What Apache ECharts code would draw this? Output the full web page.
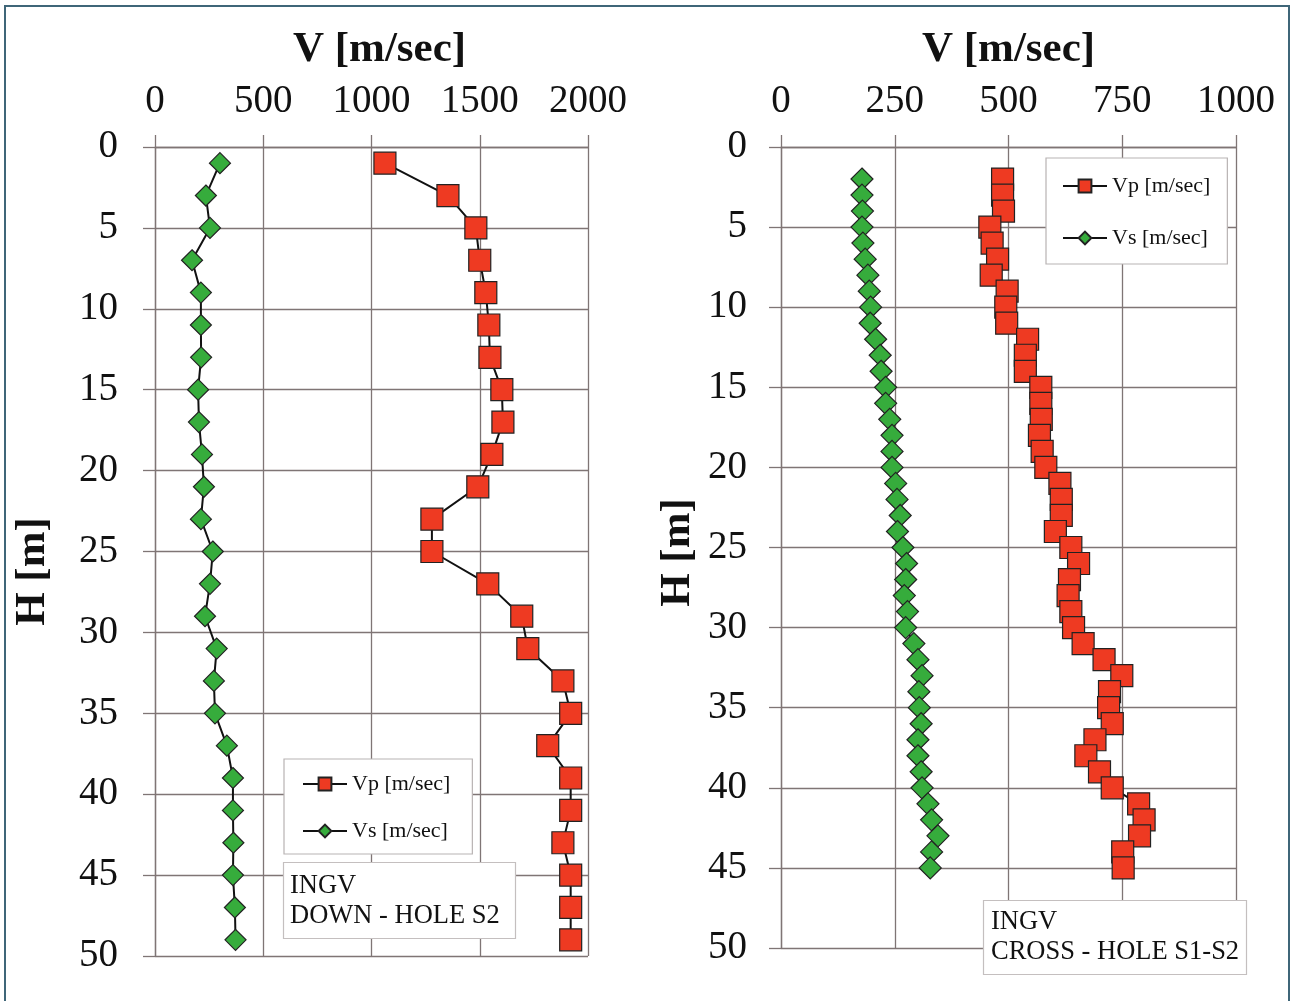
<!DOCTYPE html>
<html>
<head>
<meta charset="utf-8">
<title>INGV velocity profiles</title>
<script src="https://cdn.jsdelivr.net/npm/echarts@6/dist/echarts.min.js"></script>
<style>
  html, body { margin: 0; padding: 0; background: #ffffff; }
  #chart { width: 1295px; height: 1001px; }
</style>
</head>
<body>
<div id="chart"></div>
<script>
// Down-hole S2: depths (m) and velocities (m/sec)
const downDepth = [1, 3, 5, 7, 9, 11, 13, 15, 17, 19, 21, 23, 25, 27, 29, 31, 33, 35, 37, 39, 41, 43, 45, 47, 49];
const downVp = [1062, 1353, 1482, 1500, 1528, 1542, 1547, 1602, 1607, 1556, 1491, 1279, 1279, 1537, 1694, 1722, 1884, 1920, 1814, 1920, 1920, 1884, 1920, 1920, 1920];
const downVs = [300, 235, 254, 171, 212, 212, 213, 199, 203, 217, 226, 212, 267, 254, 231, 285, 272, 277, 332, 360, 360, 362, 360, 369, 372];

// Cross-hole S1-S2: depths (m) and velocities (m/sec)
const crossDepth = [2, 3, 4, 5, 6, 7, 8, 9, 10, 11, 12, 13, 14, 15, 16, 17, 18, 19, 20, 21, 22, 23, 24, 25, 26, 27, 28, 29, 30, 31, 32, 33, 34, 35, 36, 37, 38, 39, 40, 41, 42, 43, 44, 45];
const crossVp = [487, 487, 489, 459, 464, 476, 462, 497, 494, 496, 542, 537, 537, 571, 571, 572, 568, 574, 582, 613, 616, 616, 603, 637, 654, 634, 631, 637, 643, 664, 710, 749, 722, 720, 728, 690, 670, 700, 728, 786, 798, 788, 751, 752];
const crossVs = [178, 178, 179, 178, 180, 185, 191, 194, 197, 196, 208, 218, 220, 230, 230, 239, 244, 244, 244, 252, 255, 262, 256, 268, 276, 274, 271, 278, 274, 292, 301, 310, 303, 304, 308, 301, 301, 308, 310, 323, 331, 345, 331, 328];

// Axis ticks
const depthTicks = { min: 0, max: 50, interval: 5 };
const downTicks = { min: 0, max: 2000, interval: 500 };
const crossTicks = { min: 0, max: 1000, interval: 250 };

const serif = 'Liberation Serif';
const gridColor = '#7f7575';
const red = '#ee3a22';
const green = '#36ac3c';

function pairs(values, depths) {
  return values.map((v, i) => [v, depths[i]]);
}

// plain integers, no thousands separator
const plain = v => String(v);

function xAxisFor(ticks, idx, namePad) {
  return {
    type: 'value', gridIndex: idx, position: 'top',
    min: ticks.min, max: ticks.max, interval: ticks.interval,
    name: 'V [m/sec]', nameLocation: 'middle', nameGap: 76,
    nameTextStyle: { fontFamily: serif, fontSize: 43, fontWeight: 'bold', color: '#111', padding: namePad },
    axisLine: { show: true, lineStyle: { color: gridColor, width: 1.3 } },
    axisTick: { show: true, length: 12, lineStyle: { color: gridColor, width: 1.3 } },
    axisLabel: { fontFamily: serif, fontSize: 39, color: '#111', margin: 26, formatter: plain },
    splitLine: { show: true, lineStyle: { color: gridColor, width: 1.3 } }
  };
}

function yAxisFor(idx, nameGap, labelMargin, namePad) {
  return {
    type: 'value', gridIndex: idx, inverse: true,
    min: depthTicks.min, max: depthTicks.max, interval: depthTicks.interval,
    name: 'H [m]', nameLocation: 'middle', nameGap: nameGap, nameRotate: 90,
    nameTextStyle: { fontFamily: serif, fontSize: 43, fontWeight: 'bold', color: '#111', padding: namePad },
    axisLine: { show: true, lineStyle: { color: gridColor, width: 1.3 } },
    axisTick: { show: true, length: 12, lineStyle: { color: gridColor, width: 1.3 } },
    axisLabel: { fontFamily: serif, fontSize: 39, color: '#111', margin: labelMargin, formatter: plain },
    splitLine: { show: true, lineStyle: { color: gridColor, width: 1.3 } }
  };
}

function lineSeries(name, data, idx, symbol, size, color) {
  return {
    type: 'line', name: name, xAxisIndex: idx, yAxisIndex: idx,
    data: data, symbol: symbol, symbolSize: size, showSymbol: true,
    lineStyle: { color: '#111', width: 2 },
    itemStyle: { color: color, borderColor: '#222', borderWidth: 1.2, opacity: 1 },
    emphasis: { disabled: true },
    animation: false, z: 3
  };
}

const legendBase = {
  orient: 'vertical',
  backgroundColor: '#ffffff',
  borderColor: '#b8b3b3', borderWidth: 1.2,
  itemWidth: 44, itemHeight: 16,
  textStyle: { fontFamily: serif, fontSize: 22, color: '#111' },
  data: ['Vp [m/sec]', 'Vs [m/sec]']
};

const chart = echarts.init(document.getElementById('chart'), null, { renderer: 'canvas' });

chart.setOption({
  backgroundColor: '#ffffff',
  animation: false,
  grid: [
    { left: 155, top: 147, width: 433, height: 809 },
    { left: 781, top: 147, width: 455, height: 801 }
  ],
  xAxis: [xAxisFor(downTicks, 0, [0, 0, 0, 16]), xAxisFor(crossTicks, 1, [0, 0, 0, 0])],
  yAxis: [yAxisFor(0, 101, 37, [0, 40, 0, 0]), yAxisFor(1, 82, 34, [0, 10, 0, 0])],
  series: [
    lineSeries('Vs [m/sec]', pairs(downVs, downDepth), 0, 'diamond', 21, green),
    lineSeries('Vp [m/sec]', pairs(downVp, downDepth), 0, 'rect', 22, red),
    lineSeries('Vs [m/sec]', pairs(crossVs, crossDepth), 1, 'diamond', 22, green),
    lineSeries('Vp [m/sec]', pairs(crossVp, crossDepth), 1, 'rect', 22, red)
  ],
  legend: [
    Object.assign({}, legendBase, { left: 284, top: 759, itemGap: 25, padding: [14, 22, 12, 18] }),
    Object.assign({}, legendBase, { left: 1046, top: 158, itemGap: 30, padding: [17, 17, 15, 16] })
  ],
  title: [
    {
      text: 'INGV\nDOWN - HOLE S2', left: 283, top: 862,
      padding: [9, 16, 8, 7],
      backgroundColor: '#ffffff', borderColor: '#c4bfbf', borderWidth: 1.2,
      textStyle: { fontFamily: serif, fontSize: 26.5, fontWeight: 'normal', color: '#111', lineHeight: 30 }
    },
    {
      text: 'INGV\nCROSS - HOLE S1-S2', left: 983, top: 900,
      padding: [7, 8, 8, 8],
      backgroundColor: '#ffffff', borderColor: '#c4bfbf', borderWidth: 1.2,
      textStyle: { fontFamily: serif, fontSize: 26.5, fontWeight: 'normal', color: '#111', lineHeight: 30 }
    }
  ],
  graphic: [
    {
      type: 'rect', silent: true, z: 100,
      shape: { x: 5, y: 6, width: 1284, height: 1010 },
      style: { fill: null, stroke: '#3f6678', lineWidth: 2 }
    }
  ]
});
</script>
</body>
</html>
